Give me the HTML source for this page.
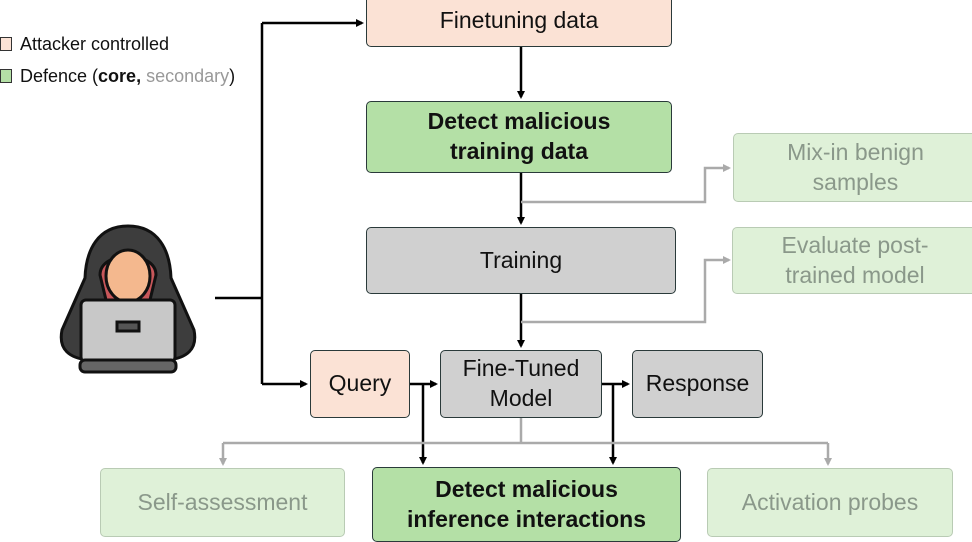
<!DOCTYPE html>
<html><head><style>
body{margin:0;width:972px;height:538px;overflow:hidden;background:#fff;font-family:"Liberation Sans",sans-serif;position:relative}
.b{position:absolute;box-sizing:border-box;border:1.5px solid #2a3a3a;border-radius:5px;display:flex;align-items:center;justify-content:center;text-align:center;font-size:23px;color:#111;line-height:1.3;white-space:nowrap}
.p{background:#fbe2d5}.g{background:#b4e0a6;font-weight:bold}.gr{background:#d0d0d0}
.s{background:#dff1d8;border-color:#b9cbb4;color:#8a988a}
.lg{position:absolute;font-size:18px;color:#111;white-space:nowrap}
.lg i{position:absolute;left:-20px;top:3px;width:10px;height:12px;border:1.3px solid #333}
</style></head><body>
<div class="lg" style="left:20px;top:34px"><i style="background:#fbe2d5"></i>Attacker controlled</div>
<div class="lg" style="left:20px;top:66px"><i style="background:#b4e0a6"></i>Defence (<b>core,</b> <span style="color:#999">secondary</span>)</div>
<svg width="972" height="538" style="position:absolute;left:0;top:0">
<defs>
<marker id="a" markerWidth="8" markerHeight="8" refX="6" refY="4" orient="auto" markerUnits="userSpaceOnUse"><path d="M0,0L8,4L0,8z" fill="#000"/></marker>
<marker id="ag" markerWidth="8" markerHeight="8" refX="6" refY="4" orient="auto" markerUnits="userSpaceOnUse"><path d="M0,0L8,4L0,8z" fill="#aaa"/></marker>
</defs>
<g stroke="#000" stroke-width="2.5" fill="none">
<path d="M215,298H262"/><path d="M262,23V384"/>
<path d="M262,23H362" marker-end="url(#a)"/>
<path d="M262,384H306" marker-end="url(#a)"/>
<path d="M521,47V97" marker-end="url(#a)"/>
<path d="M521,173V223" marker-end="url(#a)"/>
<path d="M521,294V346" marker-end="url(#a)"/>
<path d="M410,384H436" marker-end="url(#a)"/>
<path d="M602,384H628" marker-end="url(#a)"/>
<path d="M423,384V463" marker-end="url(#a)"/>
<path d="M613,384V463" marker-end="url(#a)"/>
</g>
<g stroke="#aaa" stroke-width="2.5" fill="none">
<path d="M521,202H705V168H729" marker-end="url(#ag)"/>
<path d="M521,322H705V260H729" marker-end="url(#ag)"/>
<path d="M521,418V443"/>
<path d="M223,443H828"/>
<path d="M223,443V464" marker-end="url(#ag)"/>
<path d="M828,443V464" marker-end="url(#ag)"/>
</g>
<g stroke="#111" stroke-width="3">
<path d="M128,226C98,226 86,250 85,278L62,330C58,350 70,358 88,360H168C186,358 198,350 194,330L171,278C170,250 158,226 128,226Z" fill="#3d3d3d"/>
<path d="M100,275C100,250 156,250 156,275L150,300H106Z" fill="#c8575a"/>
<ellipse cx="128" cy="276" rx="22" ry="26" fill="#f4b88e"/>
<rect x="81" y="300" width="94" height="62" rx="5" fill="#c8c8c8"/>
<rect x="80" y="360" width="96" height="12" rx="5" fill="#666"/>
<rect x="117" y="322" width="22" height="9" fill="#555"/>
</g>
</svg>
<div class="b p" style="left:366px;top:-6px;width:306px;height:53px">Finetuning data</div>
<div class="b g" style="left:366px;top:101px;width:306px;height:72px">Detect malicious<br>training data</div>
<div class="b s" style="left:733px;top:133px;width:245px;height:69px">Mix-in benign<br>samples</div>
<div class="b gr" style="left:366px;top:227px;width:310px;height:67px">Training</div>
<div class="b s" style="left:732px;top:227px;width:246px;height:67px">Evaluate post-<br>trained model</div>
<div class="b p" style="left:310px;top:350px;width:100px;height:68px">Query</div>
<div class="b gr" style="left:440px;top:350px;width:162px;height:68px">Fine-Tuned<br>Model</div>
<div class="b gr" style="left:632px;top:350px;width:131px;height:68px">Response</div>
<div class="b s" style="left:100px;top:468px;width:245px;height:69px">Self-assessment</div>
<div class="b g" style="left:372px;top:467px;width:309px;height:75px">Detect malicious<br>inference interactions</div>
<div class="b s" style="left:707px;top:468px;width:246px;height:69px">Activation probes</div>
</body></html>
